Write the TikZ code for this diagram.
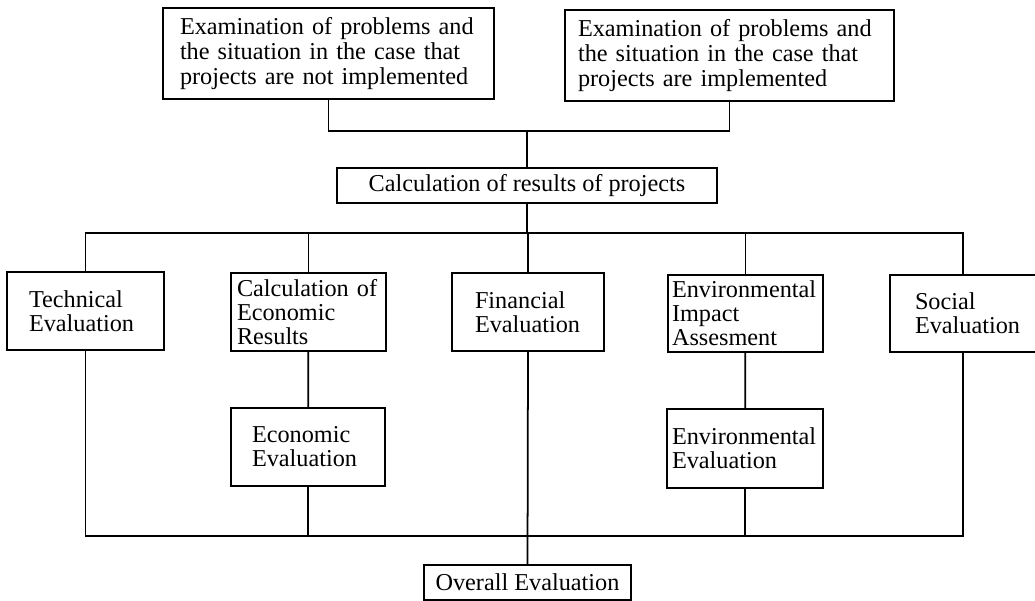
\documentclass[tikz,border=0pt]{standalone}
\usepackage{fontspec}
\setmainfont{Liberation Serif}
\usepackage{tikz}
\usetikzlibrary{positioning,calc}
\tikzset{
  box/.style={draw, line width=0.6pt, inner sep=0pt, align=left,
              font=\fontsize{13.8}{13.6}\selectfont},
  topbox/.style={box, font=\fontsize{13.8}{14.4}\selectfont},
  link/.style={line width=1pt},
}

\begin{document}
\begin{tikzpicture}
    \useasboundingbox (0,0) rectangle (20.7,-12.02);
    \node[topbox, minimum width=6.62cm, minimum height=1.82cm, text width=5.94cm] (noimp) at (6.57,-1.07) {Examination of problems and\\the situation in the case that\\projects are not implemented};
    \node[topbox, minimum width=6.58cm, minimum height=1.82cm, text width=6.06cm] (imp) at (14.59,-1.11) {Examination of problems and\\the situation in the case that\\projects are implemented};
    \node[box, minimum width=7.6cm, minimum height=0.7cm, align=center] (res) at (10.54,-3.71) {Calculation of results of projects};

    \node[box, minimum width=3.14cm, minimum height=1.56cm, text width=2.26cm] (tech) at (1.71,-6.22) {Technical\\Evaluation};
    \node[box, minimum width=3.10cm, minimum height=1.56cm, text width=2.86cm] (calcecon) at (6.17,-6.24) {Calculation of\\Economic\\Results};
    \node[box, minimum width=3.04cm, minimum height=1.56cm, text width=2.12cm] (fin) at (10.56,-6.24) {Financial\\Evaluation};
    \node[box, minimum width=3.10cm, minimum height=1.54cm, text width=2.94cm] (envimp) at (14.91,-6.27) {Environmental\\Impact\\Assesment};
    \node[box, minimum width=3.2cm, minimum height=1.54cm, text width=2.2cm] (soc) at (19.4,-6.27) {Social\\Evaluation};

    \node[box, minimum width=3.08cm, minimum height=1.56cm, text width=2.24cm] (ecoeval) at (6.16,-8.94) {Economic\\Evaluation};
    \node[box, minimum width=3.12cm, minimum height=1.58cm, text width=2.92cm] (enveval) at (14.90,-8.97) {Environmental\\Evaluation};
    \node[box, minimum width=4.14cm, minimum height=0.7cm, align=center] (total) at (10.55,-11.65) {Overall Evaluation};

    \coordinate (j1) at (10.54,-2.62);
    \coordinate (bar1) at (10.54,-4.66);
    \coordinate (bar2) at (10.54,-10.72);
    \coordinate (socn) at ([xshift=-0.14cm]soc.north);
    \coordinate (socs) at ([xshift=-0.14cm]soc.south);

    \draw[link] (noimp.south) |- (j1) -| (imp.south); \draw[link] (j1) -- (res.north);
    \draw[link] (res.south) -- (bar1);
    \draw[link] (tech.north) |- (bar1) -| (socn);
    \foreach \n in {calcecon, fin, envimp} \draw[link] (\n.north) -- (\n.north |- bar1);
    \draw[link] (calcecon) -- (ecoeval); \draw[link] (envimp) -- (enveval);
    \draw[link] (tech.south) |- (bar2) -| (socs);
    \draw[link] (ecoeval.south) -- (ecoeval.south |- bar2); \draw[link] (enveval.south) -- (enveval.south |- bar2);
    \draw[link] (fin.south) -- (total.north);
\end{tikzpicture}
\end{document}
